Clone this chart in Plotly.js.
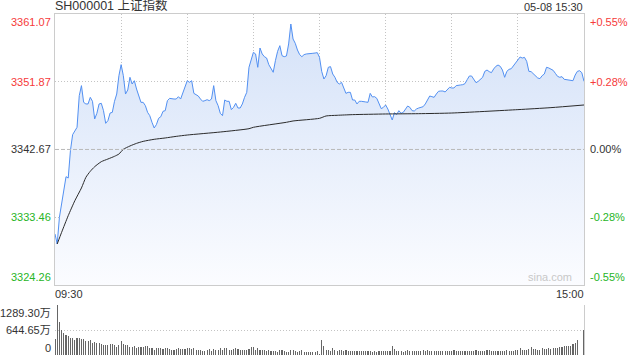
<!DOCTYPE html>
<html>
<head>
<meta charset="utf-8">
<script src="https://cdn.plot.ly/plotly-3.0.1.min.js"></script>
<style>html,body{margin:0;padding:0;background:#fff;}#chart{width:640px;height:360px;}</style>
</head>
<body>
<div id="chart"></div>
<script>
// ---- data ----
const symbolTitle = 'SH000001 上证指数';
const dateLabel = '05-08 15:30';
const prevClose = 3342.67;
const priceTicks = [3361.07, 3351.87, 3342.67, 3333.46, 3324.26];
const pctTicks = ['+0.55%', '+0.28%', '0.00%', '-0.28%', '-0.55%'];
const volTickVals = [1289.30, 644.65, 0];
const volTickText = ['1289.30万', '644.65万', '0'];
const timeLabels = ['09:30', '15:00'];
const gridMinutes = [30, 60, 90, 120, 150, 180, 210];

const price = [
3331.19,3329.83,3333.45,3335.26,3336.85,3338.97,3338.79,3342.51,3344.68,3345.13,
3345.68,3349.98,3351.34,3349.07,3348.85,3348.85,3349.75,3349.21,3346.81,3347.58,
3348.85,3348.94,3347.94,3346.22,3346.58,3347.62,3347.71,3349.21,3350.20,3352.69,
3354.19,3352.69,3350.20,3350.75,3352.47,3351.56,3352.01,3350.88,3349.98,3349.07,
3349.07,3348.62,3347.71,3347.26,3346.36,3345.59,3346.04,3346.90,3347.12,3347.85,
3347.94,3349.30,3349.61,3349.52,3349.52,3349.52,3349.84,3349.52,3350.29,3351.20,
3352.01,3351.79,3352.01,3350.29,3350.11,3349.93,3349.52,3349.21,3349.30,3349.43,
3349.30,3349.52,3351.34,3349.30,3348.62,3347.58,3347.26,3349.39,3349.21,3349.21,
3348.08,3348.39,3348.94,3348.30,3348.30,3348.85,3349.75,3350.43,3353.83,3354.73,
3355.86,3355.64,3353.83,3356.45,3355.64,3355.27,3355.09,3354.19,3353.69,3353.15,
3354.73,3356.00,3356.77,3355.41,3355.27,3355.37,3357.00,3359.71,3357.67,3357.09,
3356.18,3355.55,3355.27,3355.55,3355.64,3355.64,3355.73,3355.73,3355.77,3355.82,
3355.18,3353.28,3352.24,3352.69,3353.83,3353.92,3352.92,3352.47,3351.79,3351.56,
3351.79,3351.11,3350.29,3350.43,3350.43,3349.39,3349.39,3348.85,3349.21,3349.21,
3349.21,3349.12,3349.07,3350.29,3349.80,3349.84,3349.61,3348.85,3348.21,3348.39,
3348.71,3348.17,3347.49,3346.67,3347.67,3347.40,3347.94,3347.58,3347.71,3348.12,
3348.57,3348.39,3347.94,3347.89,3348.17,3348.30,3348.39,3348.48,3348.85,3349.30,
3349.93,3349.84,3349.75,3350.20,3350.57,3350.61,3350.61,3350.48,3350.75,3351.11,
3351.02,3351.02,3351.34,3351.34,3351.43,3351.47,3351.61,3352.15,3352.65,3352.65,
3352.20,3351.74,3351.92,3352.24,3352.47,3353.28,3353.46,3353.24,3353.10,3353.60,
3353.96,3354.14,3353.96,3353.46,3352.47,3353.28,3353.55,3353.64,3354.05,3354.41,
3354.73,3355.23,3355.09,3355.18,3354.64,3353.28,3353.24,3352.97,3352.78,3352.38,
3352.29,3352.69,3352.92,3353.83,3353.74,3353.55,3353.42,3353.01,3352.60,3352.47,
3352.56,3352.20,3352.15,3352.11,3352.06,3352.01,3352.78,3353.28,3353.37,3353.10,
3351.92
];

const avgMinutes = [1,3,6,9,12,14,16,18,21,24,27,29,31,34,37,40,45,50,55,60,75,88,90,105,108,120,123,128,135,150,165,180,210,225,240];
const avgPrice = [3329.83,3331.41,3333.68,3335.71,3337.44,3338.88,3339.70,3340.33,3341.01,3341.37,3341.74,3342.05,3342.69,3343.14,3343.50,3343.77,3344.05,3344.23,3344.45,3344.63,3345.04,3345.49,3345.68,3346.36,3346.54,3346.90,3347.22,3347.31,3347.40,3347.49,3347.53,3347.62,3348.08,3348.35,3348.71];

const volume = [
415,1289,848,640,571,528,485,441,433,398,
433,433,415,415,355,355,381,303,329,311,
303,277,268,251,251,277,277,251,199,251,
355,277,268,251,199,199,225,182,199,199,
199,242,225,182,173,138,173,173,173,156,
173,173,156,138,121,156,173,164,156,156,
173,173,156,173,138,121,121,104,104,121,
156,104,156,138,121,173,138,190,173,138,
138,156,173,156,138,121,138,138,156,199,
199,138,173,121,121,121,95,121,104,104,
104,87,138,121,112,87,69,138,121,104,
87,112,121,87,87,69,69,69,69,95,
35,381,225,121,121,95,173,121,112,121,
121,95,121,112,95,95,95,95,95,95,
95,95,95,95,78,95,69,95,112,112,
95,95,95,225,156,95,95,95,78,95,
138,95,112,95,95,112,95,121,95,121,
95,95,112,112,112,95,95,95,112,112,
95,121,104,104,104,95,95,95,95,95,
95,121,112,95,95,95,121,121,112,95,
95,104,95,95,112,121,95,95,112,121,
121,173,138,138,138,156,199,156,156,138,
138,173,156,164,173,156,173,173,182,199,
199,242,225,225,242,286,311,381,0,0,
632
];

const minutes = price.map((_, i) => i);

// ---- styling ----
const FONT = "'Liberation Sans', Arial, 'Noto Sans CJK SC', sans-serif";
const RED = '#f63a3a';
const GREEN = '#27b527';
const DARK = '#333333';
const GRID = '#c4c4c4';
const GRIDDASH = '1px,2px';
const colorFor = v => v > prevClose + 0.001 ? RED : (v < prevClose - 0.001 ? GREEN : DARK);

const mainBottom = 0.2053;
const volTop = 0.1466;

const traces = [
  {
    x: minutes, y: price, type: 'scatter', mode: 'lines',
    line: {color: '#5290f2', width: 1},
    fill: 'tozeroy',
    fillgradient: {type: 'vertical', start: priceTicks[4], stop: priceTicks[0],
      colorscale: [[0, 'rgba(251,252,255,1)'], [0.55, 'rgba(229,237,251,1)'], [1, 'rgba(211,225,248,1)']]},
    xaxis: 'x', yaxis: 'y', hoverinfo: 'skip'
  },
  {
    x: avgMinutes, y: avgPrice, type: 'scatter', mode: 'lines',
    line: {color: '#2b2b2b', width: 1, shape: 'spline', smoothing: 0.6},
    xaxis: 'x', yaxis: 'y', hoverinfo: 'skip'
  },
  {
    x: minutes, y: volume, type: 'bar', width: 0.5,
    marker: {color: '#666666', line: {width: 0}},
    xaxis: 'x2', yaxis: 'y2', hoverinfo: 'skip'
  }
];

const annotations = [];
priceTicks.forEach((v, i) => {
  const anchor = i === 0 ? 'top' : (i === priceTicks.length - 1 ? 'bottom' : 'middle');
  annotations.push({xref: 'paper', yref: 'y', x: 0, y: v, xanchor: 'right', yanchor: anchor,
    xshift: -2, text: v.toFixed(2), showarrow: false, font: {family: FONT, size: 11, color: colorFor(v)}});
  annotations.push({xref: 'paper', yref: 'y', x: 1, y: v, xanchor: 'left', yanchor: anchor,
    xshift: 4, text: pctTicks[i], showarrow: false, font: {family: FONT, size: 11, color: colorFor(v)}});
});
volTickVals.forEach((v, i) => {
  const anchor = i === 0 ? 'top' : (i === volTickVals.length - 1 ? 'bottom' : 'middle');
  annotations.push({xref: 'paper', yref: 'y2', x: 0, y: v, xanchor: 'right', yanchor: anchor,
    xshift: -2, yshift: i === volTickVals.length - 1 ? -1 : 0, text: volTickText[i], showarrow: false,
    font: {family: FONT, size: 11, color: DARK}});
});
annotations.push({xref: 'paper', yref: 'paper', x: 0, y: 1, xanchor: 'left', yanchor: 'bottom',
  xshift: -2, yshift: -1, text: symbolTitle, showarrow: false, font: {family: FONT, size: 12.5, color: DARK}});
annotations.push({xref: 'paper', yref: 'paper', x: 1, y: 1, xanchor: 'right', yanchor: 'bottom',
  xshift: 1, yshift: -1, text: dateLabel, showarrow: false, font: {family: FONT, size: 11, color: DARK}});
annotations.push({xref: 'x', yref: 'paper', x: minutes[0], y: mainBottom, xanchor: 'left', yanchor: 'top',
  xshift: -2, yshift: -1, text: timeLabels[0], showarrow: false, font: {family: FONT, size: 11, color: DARK}});
annotations.push({xref: 'x', yref: 'paper', x: minutes[minutes.length - 1], y: mainBottom, xanchor: 'right', yanchor: 'top',
  xshift: 2, yshift: -1, text: timeLabels[1], showarrow: false, font: {family: FONT, size: 11, color: DARK}});
annotations.push({xref: 'x', yref: 'y', x: minutes[minutes.length - 1], y: priceTicks[4], xanchor: 'right', yanchor: 'bottom',
  xshift: -10, yshift: 0, text: 'sina.com', showarrow: false, font: {family: FONT, size: 11, color: '#c8c8c8'}});

const layout = {
  width: 640, height: 360,
  margin: {l: 55, r: 56, t: 14, b: 5, pad: 0},
  paper_bgcolor: '#ffffff', plot_bgcolor: 'rgba(0,0,0,0)',
  showlegend: false, hovermode: false,
  xaxis: {domain: [0, 1], range: [0, 240], anchor: 'y', tickvals: gridMinutes, showticklabels: false,
    ticks: '', showgrid: true, gridcolor: GRID, griddash: GRIDDASH, gridwidth: 1,
    showline: true, mirror: true, linecolor: '#cccccc', linewidth: 1, zeroline: false},
  yaxis: {domain: [mainBottom, 1], range: [priceTicks[4], priceTicks[0]], anchor: 'x',
    tickvals: [priceTicks[1], priceTicks[3]], showticklabels: false, ticks: '',
    showgrid: true, gridcolor: GRID, griddash: GRIDDASH, gridwidth: 1,
    showline: true, mirror: true, linecolor: '#cccccc', linewidth: 1, zeroline: false},
  xaxis2: {domain: [0, 1], range: [0, 240], anchor: 'y2', showticklabels: false, ticks: '',
    showgrid: false, showline: false, zeroline: false},
  yaxis2: {domain: [0, volTop], range: [0, 1289.6], anchor: 'x2', side: 'right',
    tickvals: [volTickVals[1], volTickVals[0]], showticklabels: false, ticks: '',
    showgrid: true, gridcolor: GRID, griddash: GRIDDASH, gridwidth: 1,
    showline: true, linecolor: '#cccccc', linewidth: 1, zeroline: false},
  shapes: [
    {type: 'line', xref: 'paper', yref: 'y', x0: 0, x1: 1, y0: prevClose, y1: prevClose,
      line: {color: '#b8b8b8', width: 1, dash: '4px,2px'}, layer: 'above'}
  ],
  annotations: annotations,
  bargap: 0
};

Plotly.newPlot('chart', traces, layout, {staticPlot: true, displayModeBar: false});
</script>
</body>
</html>
